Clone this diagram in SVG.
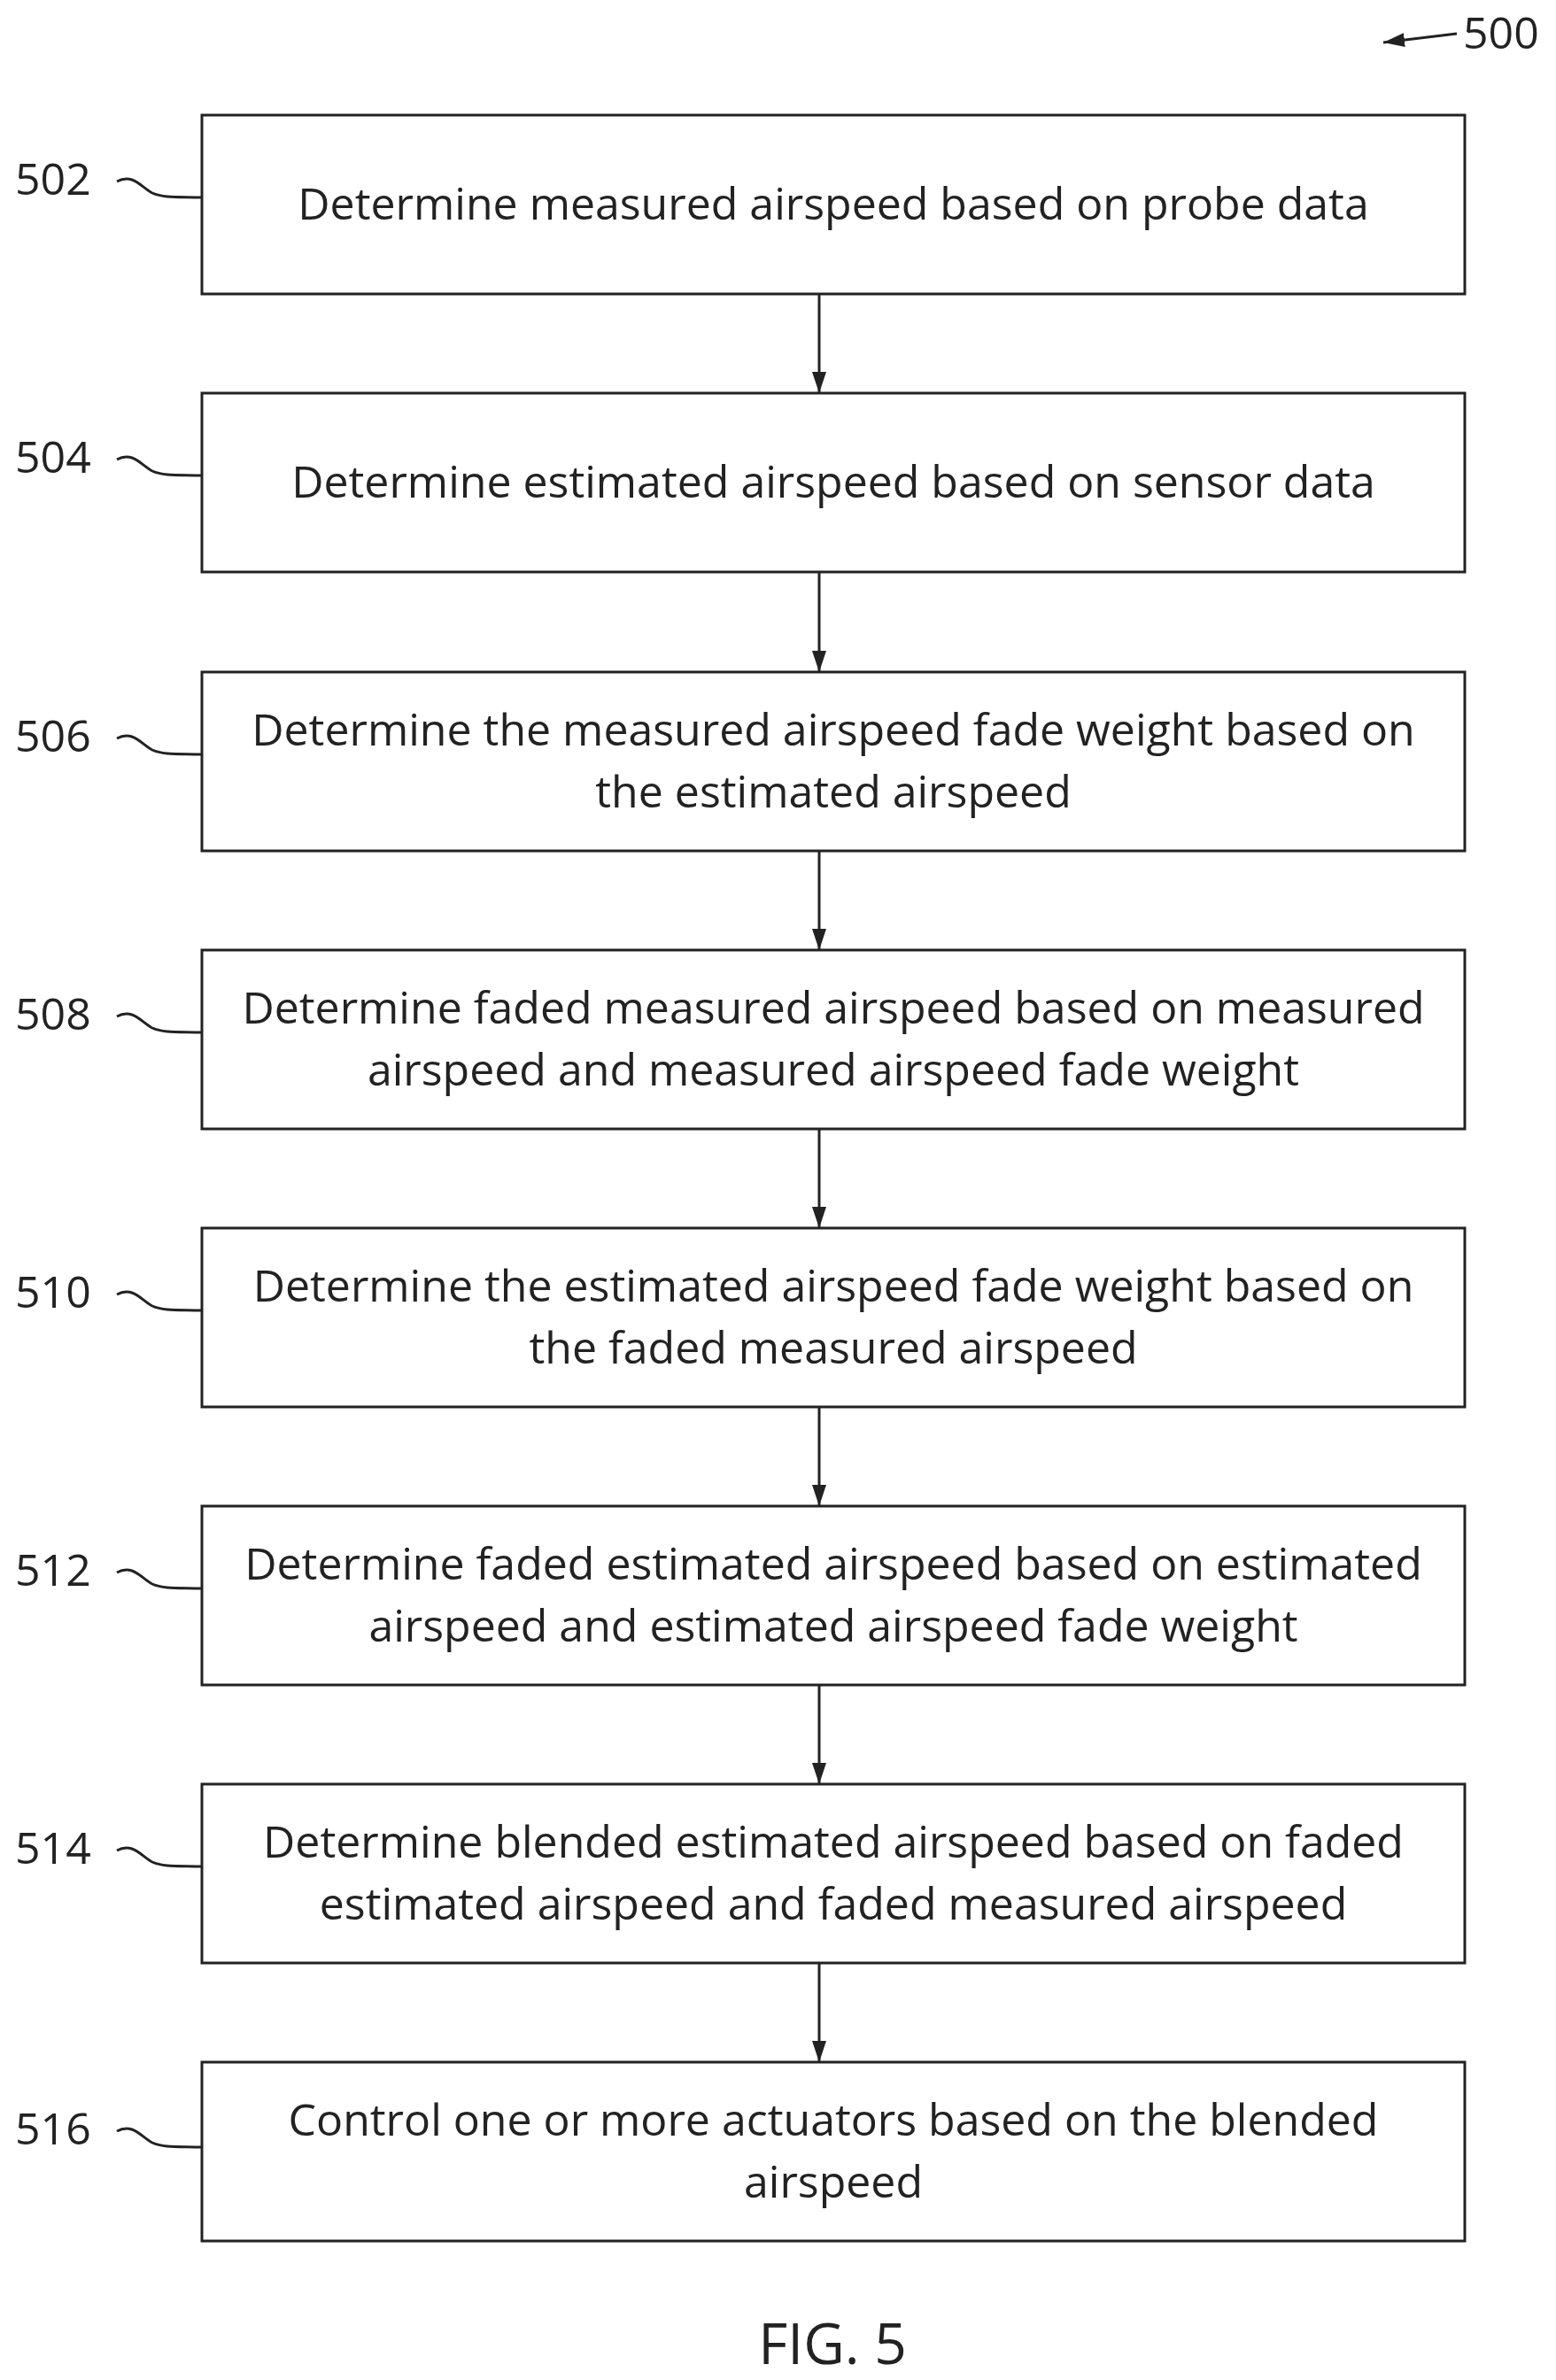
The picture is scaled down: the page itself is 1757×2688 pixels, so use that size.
<svg xmlns="http://www.w3.org/2000/svg" width="1757" height="2688" viewBox="0 0 1757 2688">
<defs>
<style>
.box{fill:#fff;stroke:#222;stroke-width:3}
.t{font-family:"Open Sans","Liberation Sans",sans-serif;font-size:50px;fill:#222;text-anchor:middle}
.lbl{font-family:"Open Sans","Liberation Sans",sans-serif;font-size:50px;fill:#222}
.ln{fill:none;stroke:#222;stroke-width:3}
</style>
<marker id="ah2" viewBox="0 0 24 24" refX="24" refY="12" markerWidth="24" markerHeight="24" markerUnits="userSpaceOnUse" orient="auto"><path d="M0,4 L24,12 L0,20 z" fill="#222"/></marker>
</defs>
<rect width="1757" height="2688" fill="#fff"/>
<g id="ref500">
<line x1="1645" y1="38" x2="1562" y2="48" class="ln" marker-end="url(#ah2)"/>
<text x="1652" y="55" class="lbl">500</text>
</g>
<g id="connectors">
<line x1="925" y1="332" x2="925" y2="444" class="ln" marker-end="url(#ah2)"/>
<line x1="925" y1="646" x2="925" y2="759" class="ln" marker-end="url(#ah2)"/>
<line x1="925" y1="961" x2="925" y2="1073" class="ln" marker-end="url(#ah2)"/>
<line x1="925" y1="1275" x2="925" y2="1387" class="ln" marker-end="url(#ah2)"/>
<line x1="925" y1="1589" x2="925" y2="1701" class="ln" marker-end="url(#ah2)"/>
<line x1="925" y1="1903" x2="925" y2="2015" class="ln" marker-end="url(#ah2)"/>
<line x1="925" y1="2217" x2="925" y2="2329" class="ln" marker-end="url(#ah2)"/>
</g>
<g id="n502"><rect class="box" x="228" y="130" width="1426" height="202"/><text class="t" x="941" y="248">Determine measured airspeed based on probe data</text>
<text class="lbl" x="17" y="220">502</text><path class="ln" d="M132,205 C150,195 160,212 172,218 C185,224 205,222 228,223"/></g>
<g id="n504"><rect class="box" x="228" y="444" width="1426" height="202"/><text class="t" x="941" y="562">Determine estimated airspeed based on sensor data</text>
<text class="lbl" x="17" y="534">504</text><path class="ln" d="M132,519 C150,509 160,526 172,532 C185,538 205,536 228,537"/></g>
<g id="n506"><rect class="box" x="228" y="759" width="1426" height="202"/><text class="t" x="941" y="842">Determine the measured airspeed fade weight based on</text><text class="t" x="941" y="912">the estimated airspeed</text>
<text class="lbl" x="17" y="849">506</text><path class="ln" d="M132,834 C150,824 160,841 172,847 C185,853 205,851 228,852"/></g>
<g id="n508"><rect class="box" x="228" y="1073" width="1426" height="202"/><text class="t" x="941" y="1156">Determine faded measured airspeed based on measured</text><text class="t" x="941" y="1226">airspeed and measured airspeed fade weight</text>
<text class="lbl" x="17" y="1163">508</text><path class="ln" d="M132,1148 C150,1138 160,1155 172,1161 C185,1167 205,1165 228,1166"/></g>
<g id="n510"><rect class="box" x="228" y="1387" width="1426" height="202"/><text class="t" x="941" y="1470">Determine the estimated airspeed fade weight based on</text><text class="t" x="941" y="1540">the faded measured airspeed</text>
<text class="lbl" x="17" y="1477">510</text><path class="ln" d="M132,1462 C150,1452 160,1469 172,1475 C185,1481 205,1479 228,1480"/></g>
<g id="n512"><rect class="box" x="228" y="1701" width="1426" height="202"/><text class="t" x="941" y="1784">Determine faded estimated airspeed based on estimated</text><text class="t" x="941" y="1854">airspeed and estimated airspeed fade weight</text>
<text class="lbl" x="17" y="1791">512</text><path class="ln" d="M132,1776 C150,1766 160,1783 172,1789 C185,1795 205,1793 228,1794"/></g>
<g id="n514"><rect class="box" x="228" y="2015" width="1426" height="202"/><text class="t" x="941" y="2098">Determine blended estimated airspeed based on faded</text><text class="t" x="941" y="2168">estimated airspeed and faded measured airspeed</text>
<text class="lbl" x="17" y="2105">514</text><path class="ln" d="M132,2090 C150,2080 160,2097 172,2103 C185,2109 205,2107 228,2108"/></g>
<g id="n516"><rect class="box" x="228" y="2329" width="1426" height="202"/><text class="t" x="941" y="2412">Control one or more actuators based on the blended</text><text class="t" x="941" y="2482">airspeed</text>
<text class="lbl" x="17" y="2422">516</text><path class="ln" d="M132,2407 C150,2397 160,2414 172,2420 C185,2426 205,2424 228,2425"/></g>
<text x="940" y="2670" style="font-family:'Open Sans','Liberation Sans',sans-serif;font-size:64px;fill:#222;text-anchor:middle">FIG. 5</text>
</svg>
